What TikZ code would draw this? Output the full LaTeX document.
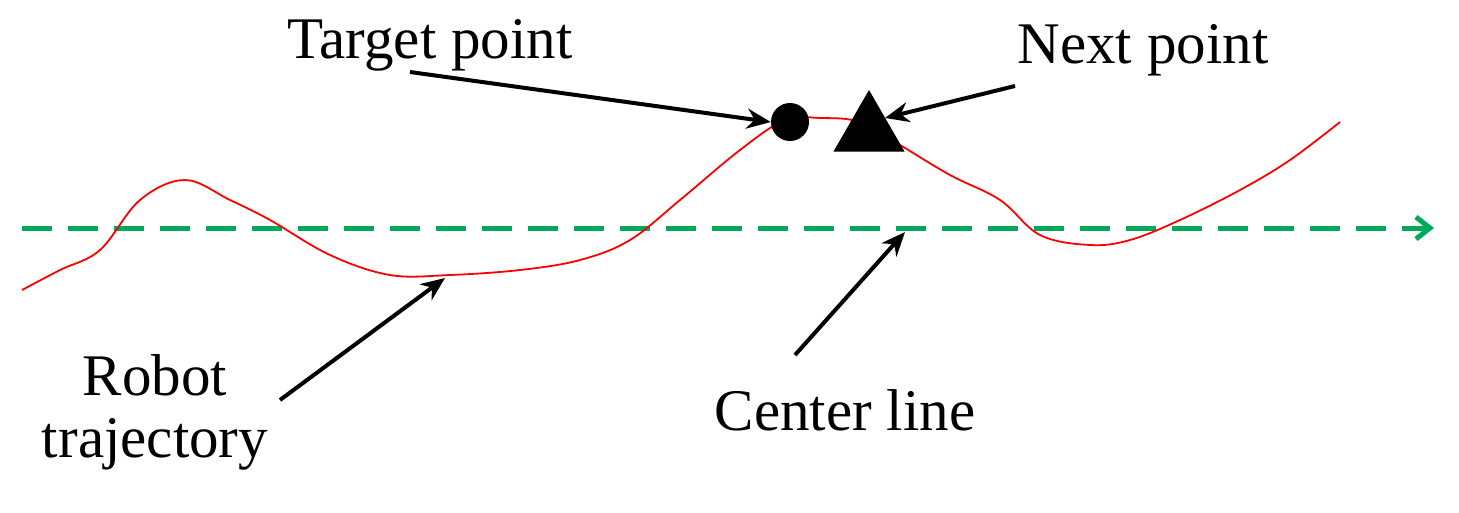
\documentclass[tikz,border=0pt]{standalone}
\usepackage{fontspec}
\setmainfont{Liberation Serif}
\usetikzlibrary{arrows.meta,shapes.geometric}
\definecolor{cgreen}{RGB}{0,170,90}
\begin{document}
\begin{tikzpicture}[x=1pt,y=-1pt,
  lbl/.style={font=\fontsize{59}{62}\selectfont, inner sep=0pt},
  ptr/.style={line width=4pt,-{Stealth[length=24pt,width=20pt]}}]
\useasboundingbox (0,0) rectangle (1459,512);
\draw[cgreen,line width=5pt,dash pattern=on 30pt off 16pt] (22,228) -- (1415,228);
\draw[cgreen,line width=5pt,-{Straight Barb[length=14pt,width=22pt]}] (1405,228) -- (1434,228);
\draw[red,line width=1.8pt] plot[smooth,tension=0.6] coordinates {(22,290) (60,270) (100,250) (140,200) (185,180) (230,200) (270,220) (330,255) (390,275) (450,275) (520,270) (580,260) (630,240) (680,200) (740,150) (785,120) (820,118) (860,122) (900,145) (950,175) (1000,200) (1040,235) (1090,245) (1130,240) (1180,220) (1240,190) (1290,160) (1340,122)};
\node[circle,fill=black,minimum size=38pt,inner sep=0pt] (tp) at (790,122) {};
\node[regular polygon,regular polygon sides=3,fill=black,minimum size=82pt,inner sep=0pt] (np) at (869,131) {};
\node[lbl] (tl) at (430,45) {Target point};
\node[lbl] (nl) at (1143,50) {Next point};
\node[lbl,align=center] (rl) at (155,412) {Robot\\trajectory};
\node[lbl] (cl) at (845,410) {Center line};
\coordinate (ta) at (410,72);
\coordinate (na) at (1015,86);
\coordinate (ra) at (280,400);
\coordinate (ca) at (795,355);
\coordinate (rt) at (445,278);
\coordinate (ct) at (905,232);
\draw[ptr] (ta) -- (tp.west);
\draw[ptr] (na) -- (885,118);
\draw[ptr] (ra) -- (rt);
\draw[ptr] (ca) -- (ct);
\end{tikzpicture}
\end{document}
